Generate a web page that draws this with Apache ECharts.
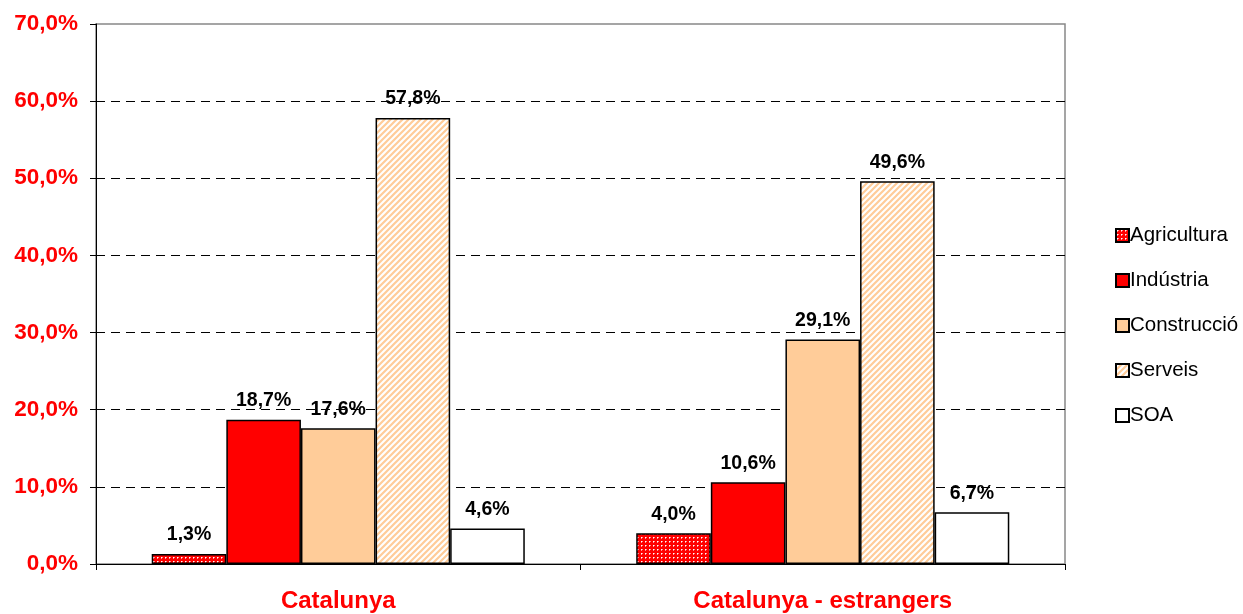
<!DOCTYPE html>
<html>
<head>
<meta charset="utf-8">
<script src="https://cdn.jsdelivr.net/npm/echarts@6/dist/echarts.min.js"></script>
<style>
  html, body { margin: 0; padding: 0; background: #fff; }
  #chart { width: 1243px; height: 614px; }
</style>
</head>
<body>
<div id="chart"></div>
<script>
var categories = ['Catalunya', 'Catalunya - estrangers'];
var sectors = ['Agricultura', 'Indústria', 'Construcció', 'Serveis', 'SOA'];
var agricultura = [1.3, 4.0];
var industria = [18.7, 10.6];
var construccio = [17.6, 29.1];
var serveis = [57.8, 49.6];
var soa = [4.6, 6.7];

// red with white dots
function dotPattern() {
  var c = document.createElement('canvas');
  c.width = 4; c.height = 4;
  var ctx = c.getContext('2d');
  ctx.fillStyle = '#ff0000';
  ctx.fillRect(0, 0, 4, 4);
  ctx.fillStyle = '#ffffff';
  ctx.fillRect(1, 1, 1, 1);
  ctx.fillStyle = '#ff9090';
  ctx.fillRect(2, 1, 1, 1);
  ctx.fillRect(1, 2, 1, 1);
  return c;
}

// white with light orange diagonal stripes
function stripePattern() {
  var c = document.createElement('canvas');
  c.width = 6; c.height = 6;
  var ctx = c.getContext('2d');
  ctx.fillStyle = '#ffffff';
  ctx.fillRect(0, 0, 6, 6);
  ctx.strokeStyle = '#ffcc99';
  ctx.lineWidth = 2.2;
  ctx.beginPath();
  ctx.moveTo(-2, 8); ctx.lineTo(8, -2);
  ctx.moveTo(-5, 5); ctx.lineTo(5, -5);
  ctx.moveTo(1, 11); ctx.lineTo(11, 1);
  ctx.stroke();
  return c;
}

function pct(v) {
  return v.toFixed(1).replace('.', ',') + '%';
}

var fills = [
  { image: dotPattern(), repeat: 'repeat' },
  '#ff0000',
  '#ffcc99',
  { image: stripePattern(), repeat: 'repeat' },
  '#ffffff'
];
var values = [agricultura, industria, construccio, serveis, soa];

var series = sectors.map(function (name, i) {
  return {
    name: name,
    type: 'bar',
    data: values[i],
    barGap: '0%',
    barCategoryGap: '23%',
    itemStyle: { color: fills[i], borderColor: '#000', borderWidth: 1.5 },
    label: {
      show: true,
      position: 'top',
      distance: 9,
      color: '#000',
      fontFamily: 'Arial, Liberation Sans',
      fontWeight: 'bold',
      fontSize: 19.5,
      formatter: function (p) { return pct(p.value); }
    }
  };
});

var chart = echarts.init(document.getElementById('chart'));
chart.setOption({
  animation: false,
  grid: {
    left: 96, right: 178, top: 24, bottom: 50,
    show: true, borderColor: '#888', borderWidth: 1.5, backgroundColor: 'transparent'
  },
  legend: {
    orient: 'vertical',
    left: 1110,
    top: 220,
    itemWidth: 13,
    itemHeight: 13,
    itemGap: 24,
    icon: 'rect',
    data: sectors,
    textStyle: { fontFamily: 'Arial, Liberation Sans', fontSize: 20.5, color: '#000', padding: [0, 0, 0, -4] }
  },
  xAxis: {
    type: 'category',
    data: categories,
    axisLine: { lineStyle: { color: '#000', width: 1 } },
    axisTick: { show: true, length: 6, lineStyle: { color: '#000' } },
    axisLabel: {
      color: '#ff0000',
      fontFamily: 'Arial, Liberation Sans',
      fontWeight: 'bold',
      fontSize: 24,
      margin: 25
    }
  },
  yAxis: {
    type: 'value',
    min: 0,
    max: 70,
    interval: 10,
    axisLine: { show: true, lineStyle: { color: '#000', width: 1 } },
    axisTick: { show: true, length: 6, lineStyle: { color: '#000' } },
    axisLabel: {
      color: '#ff0000',
      fontFamily: 'Arial, Liberation Sans',
      fontWeight: 'bold',
      fontSize: 22.5,
      margin: 18,
      formatter: function (v) { return pct(v); }
    },
    splitLine: {
      show: true,
      showMinLine: false,
      showMaxLine: false,
      lineStyle: { color: '#000', type: [9, 6], width: 1 }
    }
  },
  series: series
});
</script>
</body>
</html>
